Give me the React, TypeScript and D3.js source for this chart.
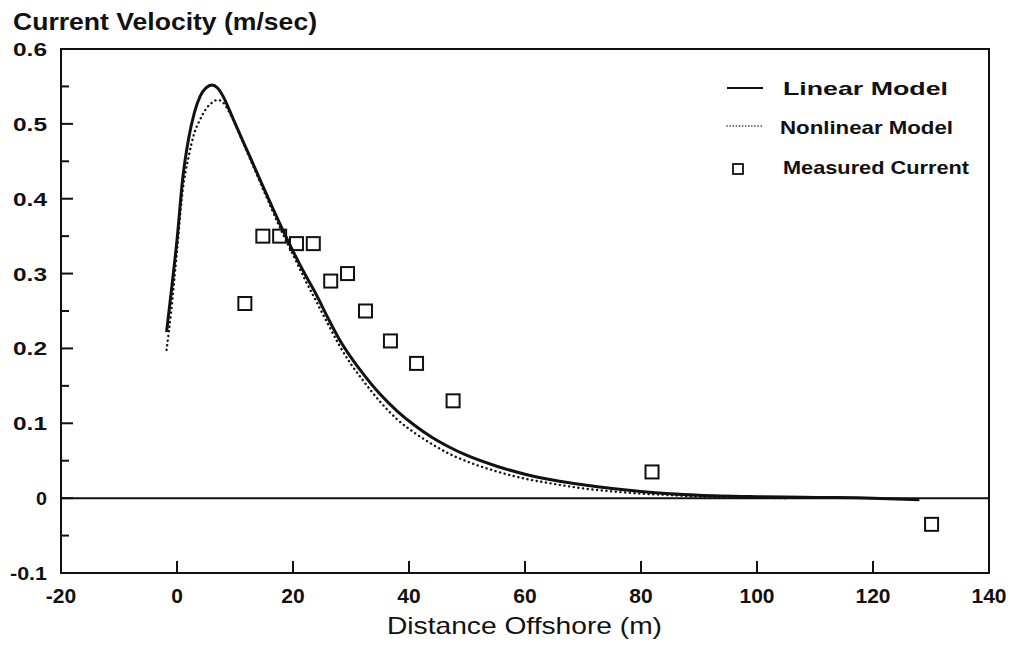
import React from 'react';
import * as d3 from 'd3';

// Linear model curve (distance m, velocity m/s)
const linearX = [-1.8, -1, 0, 1, 2, 3, 4, 5, 6, 7, 8, 9, 10, 12, 14, 16, 18, 20, 22, 24, 26, 28, 30, 32, 35, 38, 41, 44, 47, 50, 55, 60, 65, 70, 75, 80, 85, 90, 100, 110, 120, 128];
const linearV = [0.222, 0.275, 0.345, 0.428, 0.48, 0.515, 0.537, 0.548, 0.552, 0.548, 0.536, 0.519, 0.501, 0.466, 0.431, 0.396, 0.362, 0.33, 0.3, 0.272, 0.241, 0.212, 0.188, 0.167, 0.139, 0.116, 0.097, 0.081, 0.068, 0.057, 0.043, 0.032, 0.024, 0.018, 0.013, 0.009, 0.006, 0.004, 0.002, 0.001, 0.0, -0.002];

// Nonlinear model curve
const nonlinX = [-1.8, -1, 0, 1, 2, 3, 4, 5, 6, 7, 8, 9, 10, 12, 14, 16, 18, 20, 22, 24, 26, 28, 30, 32, 35, 38, 41, 44, 47, 50, 55, 60, 65, 70, 75, 80, 85, 90, 97, 105];
const nonlinV = [0.198, 0.25, 0.33, 0.412, 0.456, 0.488, 0.506, 0.52, 0.528, 0.532, 0.528, 0.516, 0.5, 0.464, 0.428, 0.392, 0.357, 0.325, 0.293, 0.263, 0.233, 0.204, 0.179, 0.158, 0.129, 0.105, 0.087, 0.072, 0.059, 0.049, 0.036, 0.026, 0.019, 0.013, 0.009, 0.006, 0.004, 0.002, 0.001, 0.0];

// Measured current
const measX = [11.7, 14.8, 17.7, 20.6, 23.5, 26.5, 29.4, 32.5, 36.8, 41.3, 47.6, 81.9, 130.1];
const measV = [0.26, 0.35, 0.35, 0.34, 0.34, 0.29, 0.3, 0.25, 0.21, 0.18, 0.13, 0.035, -0.035];

const xTicks = [-20, 0, 20, 40, 60, 80, 100, 120, 140];
const yTicks = [-0.1, 0, 0.1, 0.2, 0.3, 0.4, 0.5, 0.6];
const yMinor = [-0.05, 0.05, 0.15, 0.25, 0.35, 0.45, 0.55];

const legendItems = ['Linear Model', 'Nonlinear Model', 'Measured Current'];

const W = 1013;
const H = 646;
const FONT = 'Arial, "Liberation Sans", Helvetica, sans-serif';

export default function App() {
  const x = d3.scaleLinear().domain([-20, 140]).range([61, 989]);
  const y = d3.scaleLinear().domain([-0.1, 0.6]).range([573, 49]);

  const line = d3.line<[number, number]>()
    .x(d => x(d[0]))
    .y(d => y(d[1]))
    .curve(d3.curveMonotoneX);

  const linPts = linearX.map((v, i) => [v, linearV[i]] as [number, number]);
  const nlPts = nonlinX.map((v, i) => [v, nonlinV[i]] as [number, number]);

  const sq = 13;
  const yLabW = (t: number) => (t === 0 ? 11 : t < 0 ? 37 : 34);
  const legW = [165, 173, 186];
  const legY = [95, 134, 174];

  return (
    <svg width={W} height={H} style={{ position: 'absolute', left: 0, top: 0, background: '#fff' }}>
      {/* title */}
      <text x={13} y={30} fontFamily={FONT} fontSize={24} fontWeight="bold" fill="#111"
        textLength={304} lengthAdjust="spacingAndGlyphs">
        Current Velocity (m/sec)
      </text>

      {/* frame */}
      <rect x={x(-20)} y={y(0.6)} width={x(140) - x(-20)} height={y(-0.1) - y(0.6)}
        fill="none" stroke="#111" strokeWidth={2} />

      {/* zero line */}
      <line x1={x(-20)} x2={x(140)} y1={y(0)} y2={y(0)} stroke="#111" strokeWidth={2} />

      {/* y ticks */}
      {yTicks.map(t => (
        <g key={'y' + t}>
          <line x1={x(-20)} x2={x(-20) + 12} y1={y(t)} y2={y(t)} stroke="#111" strokeWidth={2} />
          <text x={47 - yLabW(t)} y={y(t) + 7} fontFamily={FONT} fontSize={19} fontWeight="bold" fill="#111"
            textLength={yLabW(t)} lengthAdjust="spacingAndGlyphs">
            {t === 0 ? '0' : t.toFixed(1)}
          </text>
        </g>
      ))}
      {yMinor.map(t => (
        <line key={'ym' + t} x1={x(-20)} x2={x(-20) + 8} y1={y(t)} y2={y(t)} stroke="#111" strokeWidth={2} />
      ))}

      {/* x ticks */}
      {xTicks.map(t => (
        <g key={'x' + t}>
          {t > -20 && t < 140 && (
            <line x1={x(t)} x2={x(t)} y1={y(-0.1)} y2={y(-0.1) - 12} stroke="#111" strokeWidth={2} />
          )}
          <text x={x(t)} y={603} textAnchor="middle" fontFamily={FONT} fontSize={21} fontWeight="bold" fill="#111">
            {t}
          </text>
        </g>
      ))}

      {/* x label */}
      <text x={387} y={634} fontFamily={FONT} fontSize={24} fill="#111"
        textLength={275} lengthAdjust="spacingAndGlyphs">
        Distance Offshore (m)
      </text>

      {/* curves */}
      <path d={line(nlPts) || ''} fill="none" stroke="#111" strokeWidth={2.4}
        strokeDasharray="0.1,4.6" strokeLinecap="round" />
      <path d={line(linPts) || ''} fill="none" stroke="#111" strokeWidth={3} />

      {/* measured */}
      {measX.map((mx, i) => (
        <rect key={'m' + i} x={x(mx) - sq / 2} y={y(measV[i]) - sq / 2} width={sq} height={sq}
          fill="none" stroke="#111" strokeWidth={2} />
      ))}

      {/* legend */}
      <line x1={727} x2={763} y1={88} y2={88} stroke="#111" strokeWidth={2} />
      <line x1={727} x2={763} y1={126} y2={126} stroke="#111" strokeWidth={1.5}
        strokeDasharray="0.1,3" strokeLinecap="round" />
      <rect x={733} y={164} width={10} height={10} fill="none" stroke="#111" strokeWidth={1.8} />
      {legendItems.map((s, i) => (
        <text key={s} x={i === 1 ? 780 : 783} y={legY[i]} fontFamily={FONT} fontSize={19} fontWeight="bold" fill="#111"
          textLength={legW[i]} lengthAdjust="spacingAndGlyphs">
          {s}
        </text>
      ))}
    </svg>
  );
}
